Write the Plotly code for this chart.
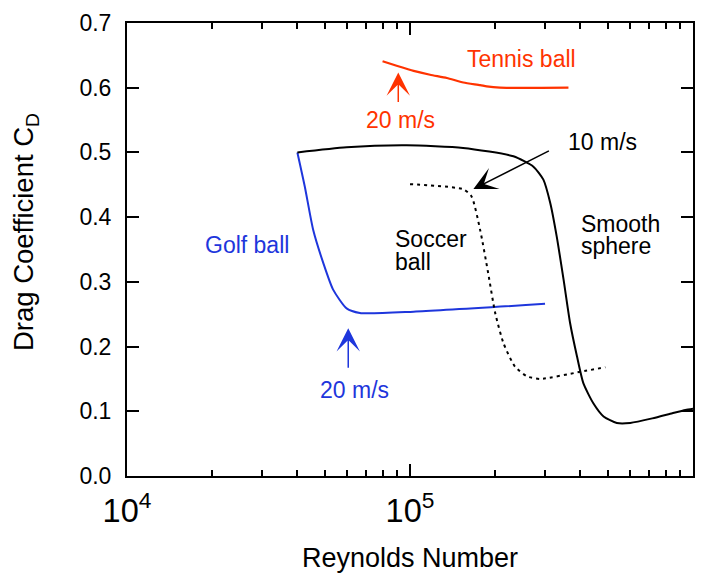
import math
import plotly.graph_objects as go

# ---------------- data ----------------
tennis_re = [8.0e4, 8.97e4, 1.03e5, 1.177e5, 1.35e5, 1.544e5, 1.77e5, 1.866e5, 2.08e5, 3.63e5]
tennis_cd = [0.641, 0.634, 0.626, 0.620, 0.615, 0.608, 0.604, 0.602, 0.600, 0.600]

golf_re = [4.0e4, 4.25e4, 4.55e4, 4.94e4, 5.35e4, 5.97e4, 6.65e4, 1.03e5, 3.0e5]
golf_cd = [0.500, 0.447, 0.380, 0.329, 0.288, 0.259, 0.252, 0.254, 0.266]

sphere_re = [4.0e4, 5.97e4, 9.73e4, 1.54e5, 2.32e5, 2.73e5, 2.96e5, 3.13e5, 3.30e5,
             3.49e5, 3.68e5, 3.89e5, 4.10e5, 4.45e5, 4.83e5, 5.38e5, 6.0e5, 7.18e5,
             8.45e5, 9.4e5, 1.0e6]
sphere_cd = [0.500, 0.508, 0.511, 0.507, 0.494, 0.478, 0.458, 0.422, 0.370,
             0.303, 0.236, 0.185, 0.143, 0.112, 0.092, 0.082, 0.082, 0.089,
             0.097, 0.102, 0.104]

soccer_re = [1.0e5, 1.544e5, 1.65e5, 1.77e5, 1.89e5, 2.0e5, 2.14e5, 2.35e5, 2.59e5, 2.88e5, 4.0e5, 4.9e5]
soccer_cd = [0.451, 0.443, 0.432, 0.380, 0.313, 0.252, 0.205, 0.169, 0.154, 0.150, 0.161, 0.168]

y_tickvals = [0.0, 0.1, 0.2, 0.3, 0.4, 0.5, 0.6, 0.7]

RED = "#ff3300"
BLUE = "#1e36dc"
BLACK = "#000000"
FONT = "Liberation Sans, Arial, Helvetica, sans-serif"

fig = go.Figure()
fig.add_trace(go.Scatter(x=tennis_re, y=tennis_cd, mode="lines",
                         line=dict(color=RED, width=2.2, shape="spline", smoothing=0.6)))
fig.add_trace(go.Scatter(x=golf_re, y=golf_cd, mode="lines",
                         line=dict(color=BLUE, width=2, shape="spline", smoothing=0.6)))
fig.add_trace(go.Scatter(x=sphere_re, y=sphere_cd, mode="lines",
                         line=dict(color=BLACK, width=2, shape="spline", smoothing=0.6)))
fig.add_trace(go.Scatter(x=soccer_re, y=soccer_cd, mode="lines",
                         line=dict(color=BLACK, width=2, dash="3px,4px", shape="spline", smoothing=0.6)))

ann = []

def label(text, re, cd, color, xanchor="center", size=23):
    ann.append(dict(x=math.log10(re), y=cd, xref="x", yref="y", text=text, showarrow=False,
                    xanchor=xanchor, yanchor="middle",
                    font=dict(family=FONT, size=size, color=color)))

def arrow(re, cd, ax, ay, color):
    ann.append(dict(x=math.log10(re), y=cd, xref="x", yref="y", text="", showarrow=True,
                    ax=ax, ay=ay, arrowhead=3, arrowsize=2.6, arrowwidth=1.5,
                    arrowcolor=color))

label("Tennis ball", 2.48e5, 0.645, RED)
label("20 m/s", 9.22e4, 0.550, RED)
arrow(9.09e4, 0.6236, 0, 31, RED)

label("Golf ball", 2.65e4, 0.357, BLUE)
label("20 m/s", 6.38e4, 0.133, BLUE)
arrow(6.05e4, 0.2284, 0, 41, BLUE)

label("10 m/s", 4.77e5, 0.5165, BLACK)
arrow(1.675e5, 0.4433, 77, -39, BLACK)

label("Soccer", 8.7e4, 0.3665, BLACK, xanchor="left")
label("ball", 8.7e4, 0.331, BLACK, xanchor="left")
label("Smooth", 3.96e5, 0.3897, BLACK, xanchor="left")
label("sphere", 3.96e5, 0.3557, BLACK, xanchor="left")

# axis titles
ann.append(dict(x=0.5, y=-0.18, xref="paper", yref="paper", text="Reynolds Number",
                showarrow=False, xanchor="center", yanchor="middle",
                font=dict(family=FONT, size=27, color=BLACK)))
ann.append(dict(x=-0.178, y=0.539, xref="paper", yref="paper",
                text="Drag Coefficient C<sub>D</sub>", textangle=-90,
                showarrow=False, xanchor="center", yanchor="middle",
                font=dict(family=FONT, size=27.5, color=BLACK)))

# the page body adds an 8px offset; the figure is shrunk by that amount so the
# plot frame lands where the reference has it (x 127..693, y 23..476 on screen)
fig.update_layout(
    width=704, height=565,
    margin=dict(l=119, r=19, t=15, b=97),
    paper_bgcolor="white", plot_bgcolor="white",
    showlegend=False,
    annotations=ann,
    font=dict(family=FONT, color=BLACK),
)

fig.update_xaxes(
    type="log", range=[4, 6], automargin=False,
    tickmode="linear", tick0=0, dtick=1, exponentformat="power",
    ticks="inside", ticklen=12, tickwidth=1.5, tickcolor=BLACK,
    minor=dict(dtick="D1", ticks="inside", ticklen=6, tickwidth=1.5, tickcolor=BLACK, showgrid=False),
    showline=True, linewidth=2, linecolor=BLACK, mirror="ticks",
    showgrid=False, zeroline=False,
    tickfont=dict(family=FONT, size=26, color=BLACK),
    ticklabelstandoff=6,
)
fig.update_yaxes(
    range=[0, 0.7], tickvals=y_tickvals, tickformat=".1f", automargin=False,
    ticks="inside", ticklen=12, tickwidth=1.5, tickcolor=BLACK,
    showline=True, linewidth=2, linecolor=BLACK, mirror="ticks",
    showgrid=False, zeroline=False,
    tickfont=dict(family=FONT, size=23, color=BLACK),
    ticklabelstandoff=9,
)

fig.write_html("out.html")
